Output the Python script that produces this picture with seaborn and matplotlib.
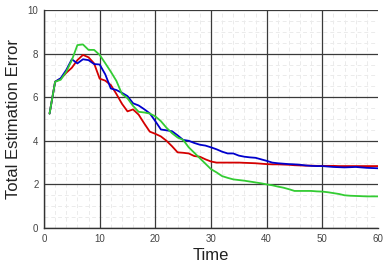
import matplotlib
matplotlib.use("Agg")
import matplotlib.pyplot as plt
import seaborn as sns
import pandas as pd
import numpy as np

time = list(range(1, 61))
red = [5.25, 6.71, 6.85, 7.12, 7.35, 7.70, 7.94, 7.83, 7.55, 6.85,
       6.76, 6.56, 6.15, 5.70, 5.35, 5.44, 5.20, 4.80, 4.42, 4.32,
       4.20, 4.00, 3.75, 3.47, 3.45, 3.42, 3.30, 3.27, 3.15, 3.05,
       3.00, 3.00, 3.00, 3.00, 3.00, 2.99, 2.98, 2.97, 2.95, 2.93,
       2.92, 2.92, 2.91, 2.90, 2.88, 2.87, 2.86, 2.86, 2.85, 2.85,
       2.85, 2.85, 2.84, 2.84, 2.84, 2.84, 2.84, 2.84, 2.84, 2.84]
blue = [5.25, 6.71, 6.87, 7.25, 7.74, 7.55, 7.74, 7.70, 7.52, 7.50,
        7.05, 6.40, 6.33, 6.20, 6.05, 5.72, 5.62, 5.45, 5.26, 4.90,
        4.52, 4.48, 4.44, 4.25, 4.04, 4.00, 3.90, 3.82, 3.78, 3.70,
        3.61, 3.50, 3.42, 3.42, 3.32, 3.27, 3.24, 3.22, 3.15, 3.08,
        3.00, 2.97, 2.95, 2.93, 2.92, 2.90, 2.87, 2.85, 2.84, 2.84,
        2.82, 2.80, 2.79, 2.78, 2.79, 2.80, 2.78, 2.76, 2.75, 2.74]
green = [5.25, 6.71, 6.80, 7.17, 7.70, 8.39, 8.42, 8.17, 8.17, 7.94,
         7.56, 7.17, 6.75, 6.15, 5.95, 5.60, 5.33, 5.30, 5.25, 5.12,
         4.90, 4.60, 4.35, 4.15, 4.04, 3.70, 3.45, 3.20, 2.95, 2.70,
         2.55, 2.38, 2.30, 2.23, 2.20, 2.17, 2.13, 2.09, 2.05, 2.00,
         1.96, 1.90, 1.85, 1.78, 1.70, 1.70, 1.70, 1.70, 1.68, 1.67,
         1.64, 1.60, 1.56, 1.50, 1.48, 1.47, 1.46, 1.45, 1.45, 1.45]
x_ticks = [0, 10, 20, 30, 40, 50, 60]
y_ticks = [0, 2, 4, 6, 8, 10]
x_minor = [v for v in range(0, 61, 2) if v % 10 != 0]
y_minor = [v / 2 for v in range(0, 21) if v % 4 != 0]

df = pd.DataFrame({
    "Time": time * 3,
    "Error": red + blue + green,
    "Series": ["red"] * 60 + ["blue"] * 60 + ["green"] * 60,
})

sns.set_style("white")
plt.rcParams["font.family"] = ["Liberation Sans", "DejaVu Sans"]

fig = plt.figure(figsize=(3.91, 2.70), dpi=100)
ax = fig.add_axes([44/391, 1 - 228/270, (378 - 44)/391, (228 - 10)/270])

ax.set_xticks(x_minor, minor=True)
ax.set_yticks(y_minor, minor=True)
ax.grid(which="minor", color="#ebebeb", linestyle=(0, (4, 3)), linewidth=0.7)
ax.grid(which="major", visible=False)
ax.set_axisbelow(True)

# major grid drawn above the minor grid
for xv in x_ticks[:-1]:
    ax.axvline(xv, color="#3a3a3a", linewidth=0.9, zorder=1)
for yv in y_ticks:
    ax.axhline(yv, color="#3a3a3a", linewidth=0.9, zorder=1)

sns.lineplot(data=df, x="Time", y="Error", hue="Series",
             palette={"red": "#d40000", "blue": "#0000cc", "green": "#33cc33"},
             linewidth=1.3, legend=False, ax=ax, zorder=3)

ax.set_xlim(0, 60)
ax.set_ylim(0, 10)
ax.set_xticks(x_ticks)
ax.set_yticks(y_ticks)
ax.tick_params(axis="both", which="both", length=0, labelsize=7, labelcolor="#444444", pad=4)
ax.set_xlabel("Time", fontsize=12, color="#222222", labelpad=3)
ax.set_ylabel("Total Estimation Error", fontsize=12, color="#222222")
ax.yaxis.set_label_coords(-0.068, 0.5)

for s in ["top", "right"]:
    ax.spines[s].set_visible(False)
for s in ["left", "bottom"]:
    ax.spines[s].set_color("#333333")
    ax.spines[s].set_linewidth(1.0)

fig.savefig("out.png", dpi=100)
